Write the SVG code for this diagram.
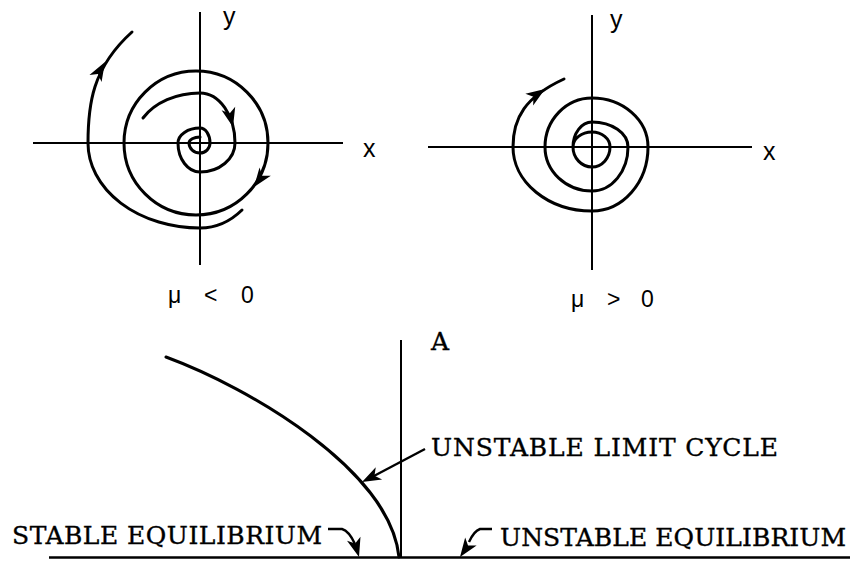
<svg xmlns="http://www.w3.org/2000/svg" xmlns:xlink="http://www.w3.org/1999/xlink" width="853" height="561" viewBox="0 0 853 561">
<style>
.ax{stroke:#000;stroke-width:2;fill:none}
.cv{stroke:#000;stroke-width:3;fill:none;stroke-linecap:round}
.ld{stroke:#000;stroke-width:2.4;fill:none}
.lbl{font-family:"DejaVu Serif","Liberation Serif",serif;font-size:25px;fill:#000;stroke:#000;stroke-width:0.35}
.var{font-family:"Liberation Sans",Arial,sans-serif;font-size:25px;fill:#000}
.mu{font-family:"Liberation Sans",Arial,sans-serif;font-size:23px;fill:#000}
</style>
<defs>
<path id="ah" d="M0,0 L-19,-7 L-14,0 L-19,7 Z" fill="#000"/>
</defs>
<rect width="853" height="561" fill="#fff"/>

<g id="phase-stable">
<line class="ax" x1="200" y1="12" x2="200" y2="265"/>
<line class="ax" x1="33" y1="143" x2="343" y2="143"/>
<text class="var" x="363" y="157">x</text>
<text class="var" x="223" y="25">y</text>
<circle class="cv" cx="196" cy="143" r="72"/>
<path class="cv" d="M242,210 A68,85 0 0 1 200,228 A112,85 0 0 1 88,143 C88,105 92,68 132,32"/>
<path class="cv" d="M143,118 A65.8,50 0 0 1 200,93 A35,50 0 0 1 235,143 A35,29 0 0 1 200,172 A22,29 0 0 1 178,143 A22,15 0 0 1 200,128 A10,15 0 0 1 210,143 A10,10 0 0 1 200,153 A11,10 0 0 1 189,143 A11,6 0 0 1 200,137"/>
<use xlink:href="#ah" transform="translate(254,187) rotate(126)"/>
<use xlink:href="#ah" transform="translate(233,127) rotate(76)"/>
<use xlink:href="#ah" transform="translate(105,62) rotate(-60)"/>
<text class="mu" x="168 187 204 224 241" y="303" xml:space="preserve">μ &lt; 0</text>
</g>

<g id="phase-unstable">
<line class="ax" x1="592" y1="15" x2="592" y2="270"/>
<line class="ax" x1="428" y1="147" x2="752" y2="147"/>
<text class="var" x="763" y="160">x</text>
<text class="var" x="610" y="28">y</text>
<path class="cv" d="M573,147 A19,15 0 0 1 592,132 A18,15 0 0 1 610,147 A18,20 0 0 1 592,167 A19,20 0 0 1 573,147 A19,25 0 0 1 592,122 A36,25 0 0 1 628,147 A36,44 0 0 1 592,191 A47,44 0 0 1 545,147 A47,49 0 0 1 592,98 A56,49 0 0 1 648,147 A56,64 0 0 1 592,211 A79,64 0 0 1 513,147 C513,118 525,97 564,79"/>
<use xlink:href="#ah" transform="translate(545,89) rotate(-34)"/>
<text class="mu" x="571 590 607 625 641" y="307" xml:space="preserve">μ &gt; 0</text>
</g>

<g id="bifurcation">
<line class="ax" x1="401" y1="340" x2="401" y2="558"/>
<line class="ax" x1="49" y1="557.5" x2="850" y2="557.5" style="stroke-width:2.4"/>
<text class="lbl" x="431" y="350">A</text>
<path class="cv" d="M166,357 C250,388 390,470 399,557"/>
</g>

<g id="labels">
<text class="lbl" x="431" y="456" textLength="347" lengthAdjust="spacing">UNSTABLE LIMIT CYCLE</text>
<text class="lbl" x="12" y="544" textLength="310" lengthAdjust="spacing">STABLE EQUILIBRIUM</text>
<text class="lbl" x="500" y="546" textLength="346" lengthAdjust="spacing">UNSTABLE EQUILIBRIUM</text>
</g>

<g id="connectors">
<path class="ld" d="M425,449 L372,477"/>
<use xlink:href="#ah" transform="translate(362,482) rotate(153)"/>
<path class="ld" d="M328,529 L342,529 Q349,531 355,544"/>
<use xlink:href="#ah" transform="translate(359,557) rotate(74)"/>
<path class="ld" d="M492,529 L480,529 Q474,531 469,542"/>
<use xlink:href="#ah" transform="translate(460,557) rotate(125)"/>
</g>
</svg>
